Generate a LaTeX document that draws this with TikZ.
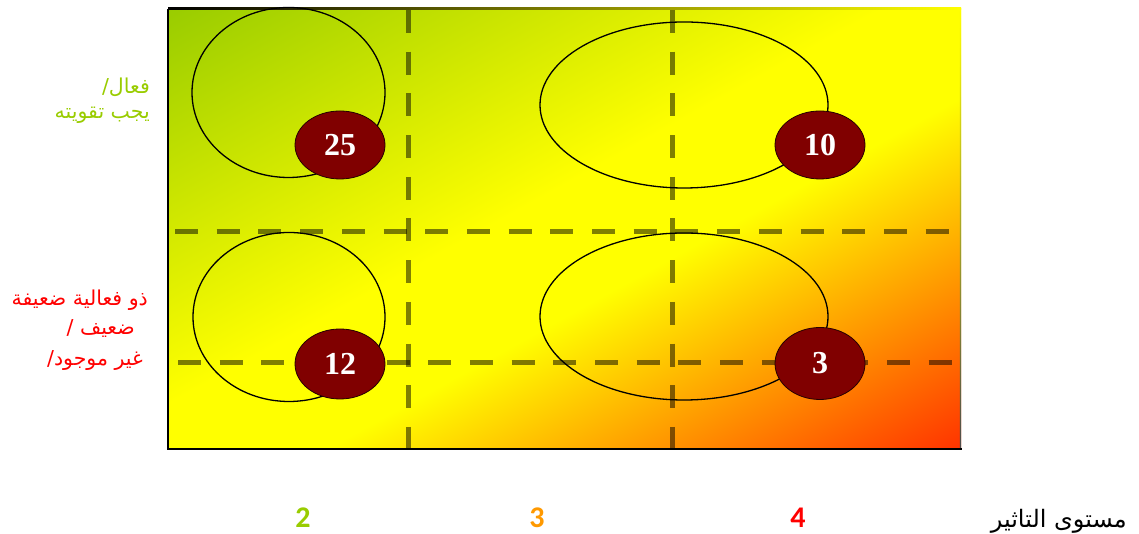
\documentclass[tikz,border=0pt]{standalone}
\usepackage{fontspec}
\usetikzlibrary{shapes.geometric}
\TeXXeTstate=1
\newfontfamily\arabicfont[Script=Arabic]{DejaVu Sans}
\newfontfamily\numfont{Liberation Serif}
\newfontfamily\calbfont{Carlito}[UprightFont={* Bold}]
\definecolor{lgreen}{RGB}{153,204,0}
\definecolor{gyellow}{RGB}{255,255,0}
\definecolor{gred}{RGB}{255,51,0}
\definecolor{darkred}{RGB}{128,0,0}
\definecolor{lorange}{RGB}{255,153,0}
\definecolor{lred}{RGB}{255,0,0}
\pgfdeclarehorizontalshading{matrixshade}{100bp}{color(0bp)=(lgreen); color(25bp)=(lgreen); color(47.5bp)=(gyellow); color(55bp)=(gyellow); color(75bp)=(gred); color(100bp)=(gred)}
\begin{document}
\begin{tikzpicture}[x=1pt,y=1pt,
  zone/.style={ellipse, draw=black, line width=1.3pt, inner sep=0pt},
  score/.style={ellipse, draw=black!70!darkred, line width=0.8pt, fill=darkred, inner sep=0pt,
    minimum width=90pt, text=white, font=\numfont\bfseries\fontsize{32}{34}\selectfont},
  gridline/.style={line width=5pt, draw=black, draw opacity=0.5, dash pattern=on 23pt off 18.7pt},
  arlabel/.style={anchor=east, inner sep=0pt, font=\arabicfont\fontsize{20.5}{24}\selectfont},
  levellabel/.style={inner sep=0pt, font=\calbfont\fontsize{30}{32}\selectfont}]
\useasboundingbox (0,0) rectangle (1139,534);
% gradient background
\begin{scope}
  \clip (168,85) rectangle (961,525);
  \begin{scope}[transform canvas={rotate around={-61.03:(564.5,305)}}]
    \shade[shading=matrixshade] (179.8,-395) rectangle (949.2,1005);
  \end{scope}
\end{scope}
% borders
\shade[left color=black, right color=gyellow] (168,524) rectangle (961,526);
\shade[top color=gyellow, bottom color=black!70] (959.8,85) rectangle (961.2,525);
\draw[line width=1.6pt] (168,85) -- (168,525);
\draw[line width=2pt] (167.2,85) -- (961.5,85);
% zone ellipses
\node[zone, minimum width=193pt, minimum height=170pt] (e1) at (288.5,441.5) {};
\node[zone, minimum width=288pt, minimum height=166pt] (e2) at (684,429) {};
\node[zone, minimum width=192pt, minimum height=169pt] (e3) at (289,217) {};
\node[zone, minimum width=288pt, minimum height=167pt] (e4) at (684,217.5) {};
% grid lines
\coordinate (v1t) at (408,524);
\coordinate (v1b) at (408,81);
\coordinate (v2t) at (672,524);
\coordinate (v2b) at (672,81);
\coordinate (h1l) at (175,302);
\coordinate (h1r) at (961,302);
\coordinate (h2l) at (178,171);
\coordinate (h2r) at (961,171);
\draw[gridline] (v1t) -- (v1b);
\draw[gridline] (v2t) -- (v2b);
\draw[gridline] (h1l) -- (h1r);
\draw[gridline] (h2l) -- (h2r);
% scores
\node[score, minimum height=68pt] (c25) at (340,389) {25};
\node[score, minimum height=68pt] (c10) at (820,389) {10};
\node[score, minimum height=70pt] (c12) at (340,170) {12};
\node[score, minimum height=72pt] (c3) at (820,170.5) {3};
% left labels
\node[arlabel, text=lgreen] (g1) at (150,447) {\beginR فعال/\endR};
\node[arlabel, text=lgreen] (g2) at (150,419) {\beginR يجب تقويته\endR};
\node[arlabel, text=lred] (r1) at (148,234) {\beginR ذو فعالية ضعيفة\endR};
\node[arlabel, text=lred] (r2) at (135,205) {\beginR ضعيف /\endR};
\node[arlabel, text=lred] (r3) at (143,173) {\beginR غير موجود/\endR};
% bottom labels
\node[levellabel, text=lgreen] (l2) at (303,16) {2};
\node[levellabel, text=lorange] (l3) at (537,16) {3};
\node[levellabel, text=lred] (l4) at (798,16) {4};
\node[anchor=east, inner sep=0pt, font=\arabicfont\fontsize{24}{28}\selectfont] (lvl) at (1127,13) {\beginR مستوى التاثير\endR};
\end{tikzpicture}
\end{document}
